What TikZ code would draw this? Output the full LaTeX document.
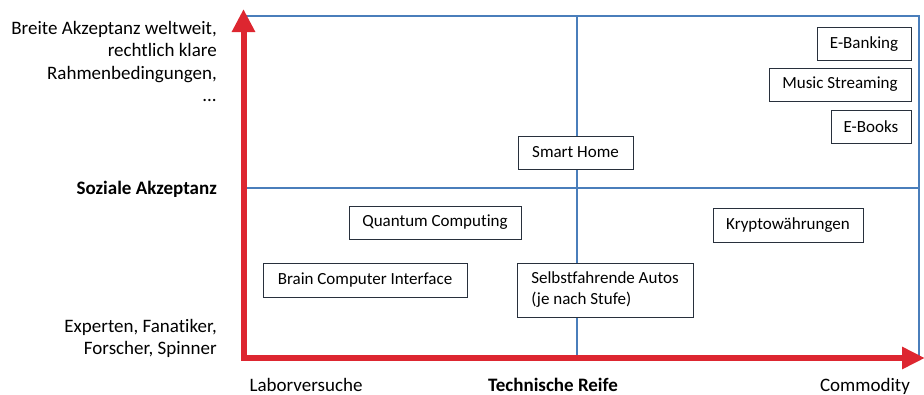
\documentclass[tikz,border=0pt]{standalone}
\usepackage{fontspec}
\setmainfont{Carlito}[Ligatures=NoCommon]
\usetikzlibrary{arrows.meta, positioning}
\definecolor{axred}{RGB}{221,38,48}
\definecolor{gridblue}{RGB}{74,126,187}
\definecolor{boxline}{RGB}{40,48,60}
\tikzset{
  box/.style ={rectangle, draw=boxline, line width=1pt, fill=white, inner sep=0pt, font=\fontsize{17}{21}\selectfont},
  lbl/.style ={align=right, inner sep=0pt, font=\fontsize{19}{22.5}\selectfont},
  ax/.style  ={draw=axred, line width=6pt, line join=miter},
  grd/.style ={draw=gridblue, line width=1.2pt},
}
\begin{document}
\begin{tikzpicture}[x=1pt, y=-1pt]
  \useasboundingbox (0,0) rectangle (924,394);
  \coordinate (O) at (243.5,358);
  \coordinate (ytip) at (243.5,9);
  \coordinate (xtip) at (925,358);
  % quadrant grid
  \draw[grd] (243,16) -- (919,16) -- (919,356);
  \draw[grd] (243,188) -- (919,188);
  \draw[grd] (577,16) -- (577,356);
  % axes
  \draw[ax, {Triangle[length=23pt, width=22pt]}-{Triangle[length=23pt, width=21pt]}] (ytip) -- (O) -- (xtip);
  % axis texts
  \node[lbl, anchor=north east] (top) at (217,21) {Breite Akzeptanz weltweit,\\rechtlich klare\\Rahmenbedingungen,\\...};
  \node[lbl, anchor=base east, font=\fontsize{19}{22.5}\selectfont\bfseries] (yname) at (217,194) {Soziale Akzeptanz};
  \node[lbl, anchor=south east] (low) at (217,358) {Experten, Fanatiker,\\Forscher, Spinner};
  \node[lbl, anchor=base] (lab) at (306,391) {Laborversuche};
  \node[lbl, anchor=base, font=\fontsize{19}{22.5}\selectfont\bfseries] (xname) at (553,391) {Technische Reife};
  \node[lbl, anchor=base] (comm) at (865,391) {Commodity};
  % technologies
  \node[box, minimum width=94pt, minimum height=33pt] (ebank) at (864,44) {E-Banking};
  \node[box, minimum width=142pt, minimum height=33pt] (music) at (840,84.5) {Music Streaming};
  \node[box, minimum width=80pt, minimum height=33pt] (ebook) at (871,126.5) {E-Books};
  \node[box, minimum width=115pt, minimum height=33pt] (smart) at (575.5,152.5) {Smart Home};
  \node[box, minimum width=172pt, minimum height=33pt] (quant) at (435,222.5) {Quantum Computing};
  \node[box, minimum width=204pt, minimum height=34pt] (bci) at (365,280) {Brain Computer Interface};
  \node[box, minimum width=176pt, minimum height=54pt, align=left] (auto) at (605,290) {Selbstfahrende Autos\\(je nach Stufe)};
  \node[box, minimum width=150pt, minimum height=34pt] (krypto) at (788,225) {Kryptowährungen};
\end{tikzpicture}
\end{document}
